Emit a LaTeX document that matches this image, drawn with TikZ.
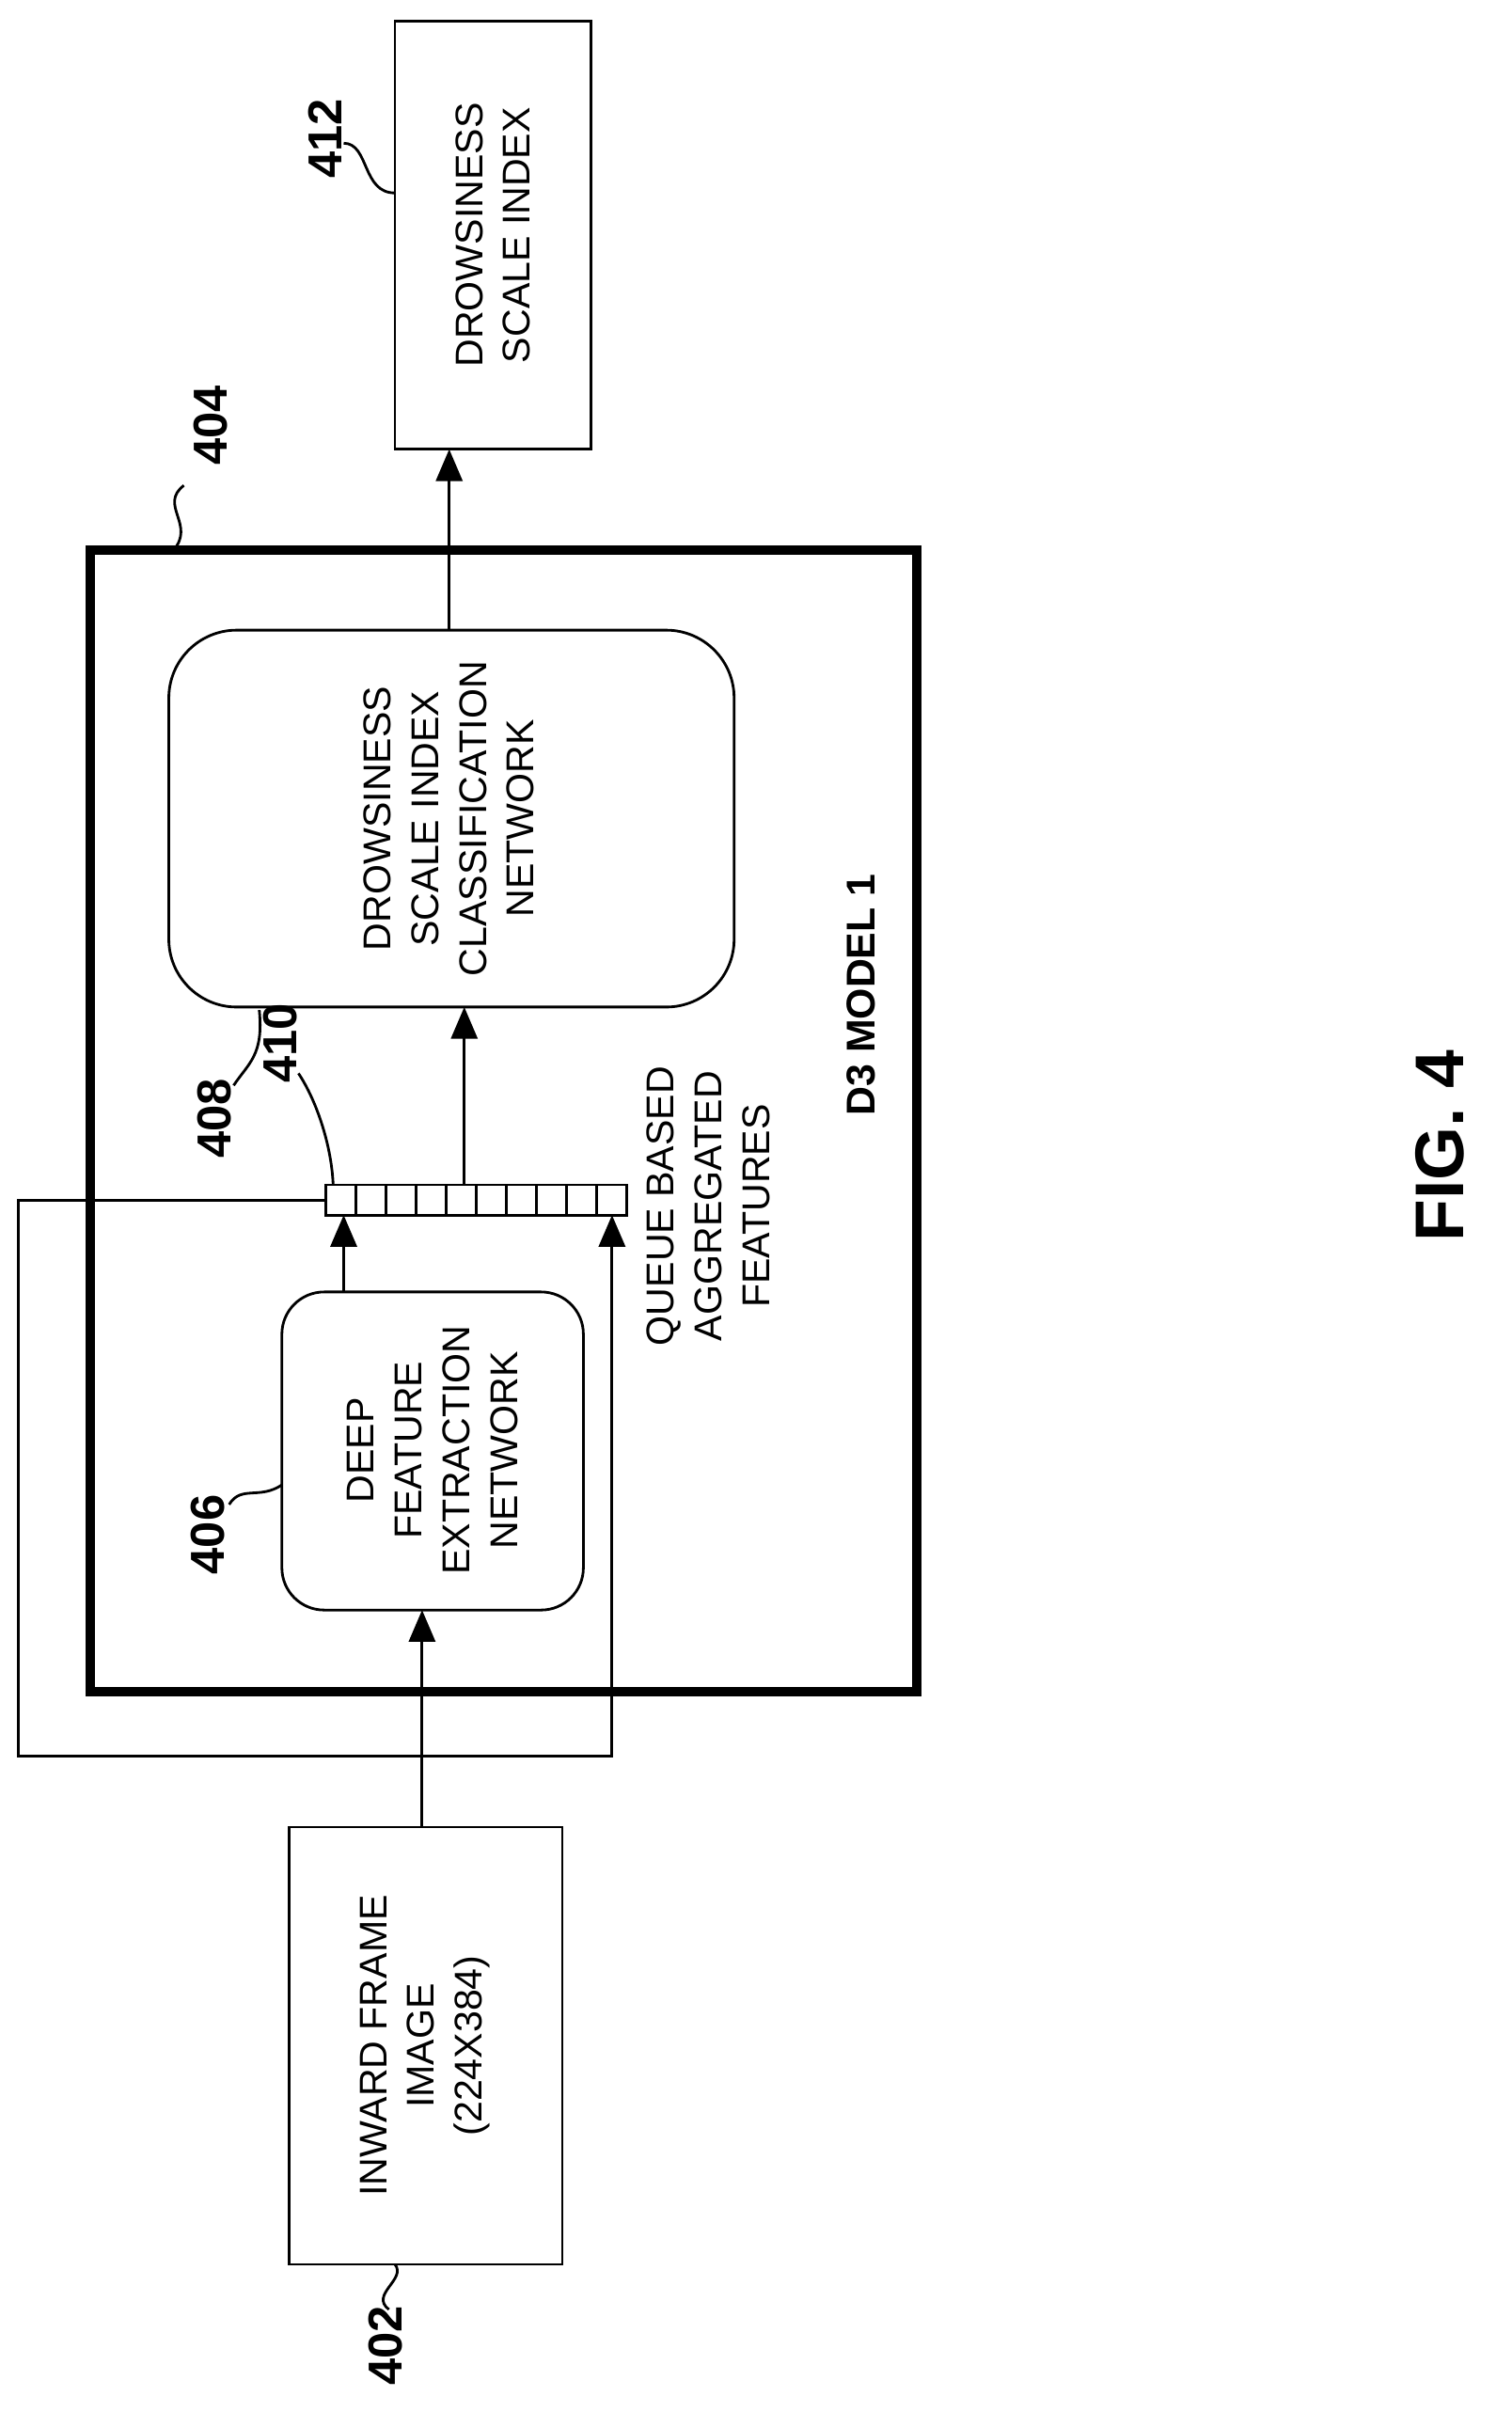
\documentclass[tikz,border=0pt]{standalone}
\usepackage{fontspec}
\setmainfont{Liberation Sans}
\usetikzlibrary{arrows.meta}
\begin{document}
\begin{tikzpicture}[x=0.1mm,y=-0.1mm,
 txt/.style={rotate=90,align=center,font=\fontsize{7.3}{9}\selectfont,inner sep=0},
 lab/.style={rotate=90,font=\bfseries\fontsize{9}{10}\selectfont,inner sep=0},
 arr/.style={line width=0.5pt,-{Triangle[length=6pt,width=5pt]}},
 sq/.style={line width=0.5pt}]
\useasboundingbox (0,0) rectangle (1003,1600);
% outer box
\draw[line width=1.8pt] (60,365) rectangle (608,1122);
% 412
\draw[line width=0.5pt] (262,14) rectangle (392,298);
\node[txt] (n412) at (327,156) {DROWSINESS\\SCALE INDEX};
\coordinate (b412) at (298,298);
% 408
\draw[line width=0.5pt,rounded corners=4.5mm] (112,418) rectangle (487,668);
\node[txt] (n408) at (298,543) {DROWSINESS\\SCALE INDEX\\CLASSIFICATION\\NETWORK};
\coordinate (t408) at (298,418);
\coordinate (b408) at (308,668);
\node[rotate=90,font=\bfseries\fontsize{7.6}{9}\selectfont] (d3) at (571,660) {D3 MODEL 1};
% queue
\foreach \i in {0,...,9}{\draw[line width=0.5pt] (216+\i*20,786) rectangle (236+\i*20,806);}
\coordinate (tq) at (308,786);
\coordinate (bq1) at (228,806);
\coordinate (bq2) at (406,806);
\coordinate (lq) at (216,796);
\node[txt] (qtxt) at (470,800) {QUEUE BASED\\AGGREGATED\\FEATURES};
% 406
\draw[line width=0.5pt,rounded corners=2.8mm] (187,857) rectangle (387,1068);
\node[txt] (n406) at (287,962) {DEEP\\FEATURE\\EXTRACTION\\NETWORK};
\coordinate (t406) at (228,857);
\coordinate (b406) at (280,1068);
% 402
\draw[line width=0.5pt] (192,1212) rectangle (373,1502);
\node[txt] (n402) at (282,1357) {INWARD FRAME\\IMAGE\\(224X384)};
\coordinate (t402) at (280,1212);
% arrows
\draw[arr] (t408) -- (b412);
\draw[arr] (tq) -- (b408);
\draw[arr] (t406) -- (bq1);
\draw[arr] (t402) -- (b406);
\draw[arr] (lq) -- (12,796) -- (12,1165) -- (406,1165) -- (bq2);
% labels
\node[lab] (l402) at (256,1556) {402};
\draw[sq] (258,1532) .. controls (245,1522) and (270,1512) .. (262,1502);
\node[lab] (l406) at (138,1018) {406};
\draw[sq] (152,998) .. controls (160,985) and (172,995) .. (187,985);
\node[lab] (l408) at (142,742) {408};
\draw[sq] (155,720) .. controls (165,705) and (175,700) .. (172,670);
\node[lab] (l410) at (186,692) {410};
\draw[sq] (198,712) .. controls (210,730) and (220,760) .. (221,786);
\node[lab] (l404) at (140,282) {404};
\draw[sq] (122,322) .. controls (105,335) and (130,348) .. (115,365);
\node[lab] (l412) at (216,92) {412};
\draw[sq] (228,95) .. controls (245,95) and (240,128) .. (262,128);
\node[rotate=90,font=\bfseries\fontsize{13}{14}\selectfont] (fig) at (955,760) {FIG. 4};
\end{tikzpicture}
\end{document}
